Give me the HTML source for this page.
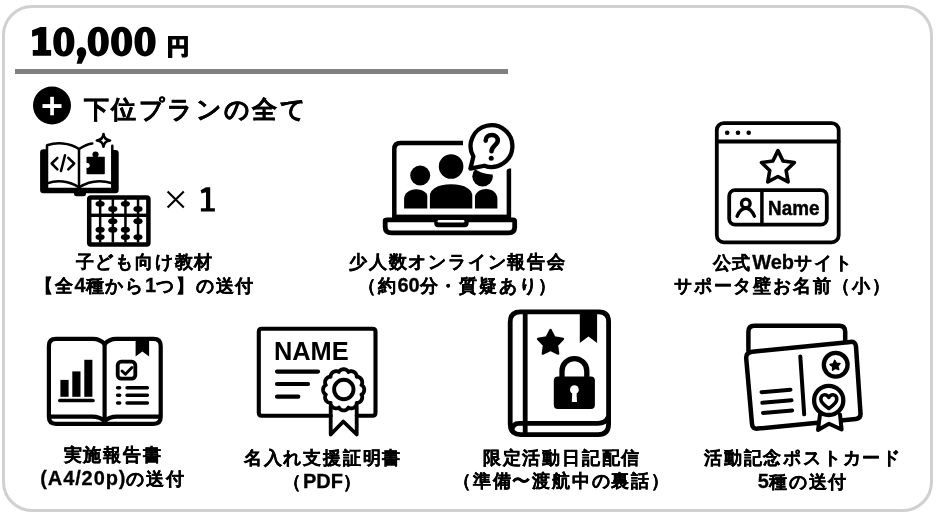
<!DOCTYPE html>
<html lang="ja"><head><meta charset="utf-8">
<style>
html,body{margin:0;padding:0;background:#fff;}
body{width:940px;height:522px;position:relative;overflow:hidden;font-family:"Liberation Sans",sans-serif;color:#000;}
.frame{position:absolute;left:2px;top:5px;width:931px;height:507px;box-sizing:border-box;border:3px solid #d0d0d0;border-radius:30px;}
.t{position:absolute;font-weight:bold;white-space:nowrap;text-align:center;-webkit-text-stroke:0.3px #000;will-change:transform;}
.lbl{font-size:18px;line-height:23px;width:300px;letter-spacing:1.8px;}
.l{font-size:20px;letter-spacing:0;}
.l2{font-size:20px;letter-spacing:0.9px;}
svg{position:absolute;left:0;top:0;will-change:transform;}
</style></head><body>
<div class="frame"></div>
<div class="t" id="head" style="left:84px;top:93px;font-size:25px;line-height:32px;letter-spacing:2.4px;-webkit-text-stroke:0.4px #000;">下位プランの全て</div>

<div class="t lbl" style="left:-5px;top:251px;">子ども向け教材<br>【全<span class="l">4</span>種から<span class="l">1</span>つ】の送付</div>
<div class="t lbl" style="left:308px;top:251px;">少人数オンライン報告会<br>（約<span class="l">60</span>分・質疑あり）</div>
<div class="t lbl" style="left:633px;top:251px;">公式<span class="l">Web</span>サイト<br>サポータ壁お名前（小）</div>

<div class="t lbl" style="left:-37px;top:444px;">実施報告書<br><span class="l2">(A4/20p)</span>の送付</div>
<div class="t lbl" style="left:173px;top:447px;">名入れ支援証明書<br>（<span class="l">PDF</span>）</div>
<div class="t lbl" style="left:412px;top:447px;">限定活動日記配信<br>（準備〜渡航中の裏話）</div>
<div class="t lbl" style="left:653px;top:447px;">活動記念ポストカード<br><span class="l">5</span>種の送付</div>
<div style="position:absolute;left:15px;top:69px;width:493px;height:5px;background:#808080"></div>

<svg width="940" height="522" viewBox="0 0 940 522">
<g fill="#000" stroke="none">
 <!-- price digits -->
 <path d="M46.3,27.1 V49.9 H51.1 V55.7 H32.8 V49.9 H38 V35 L32.1,36.8 V30.2 L40.5,27.1 Z"/>
 <path fill-rule="evenodd" d="M63.85,27.1 C70.5,27.1 74.4,32.5 74.4,41.8 C74.4,51.2 70.5,56.6 63.85,56.6 C57.2,56.6 53.3,51.2 53.3,41.8 C53.3,32.5 57.2,27.1 63.85,27.1 Z M63.85,32.1 C61.9,32.1 60.9,35 60.9,41.8 C60.9,48.6 61.9,51.4 63.85,51.4 C65.8,51.4 66.8,48.6 66.8,41.8 C66.8,35 65.8,32.1 63.85,32.1 Z"/>
 <path d="M81.5,47.3 C84.5,47.3 86.2,49.6 86.2,52.2 C86.2,54.2 85.6,55.8 84.7,57.6 L81.7,63.7 H76.6 L78.6,56.6 C77.4,55.6 76.8,54.1 76.8,52.3 C76.8,49.6 78.8,47.3 81.5,47.3 Z"/>
 <g id="z"><path fill-rule="evenodd" d="M98.25,26.8 C104.9,26.8 108.8,32.3 108.8,41.6 C108.8,50.9 104.9,56.4 98.25,56.4 C91.6,56.4 87.7,50.9 87.7,41.6 C87.7,32.3 91.6,26.8 98.25,26.8 Z M98.25,31.8 C96.3,31.8 95.3,34.8 95.3,41.6 C95.3,48.4 96.3,51.4 98.25,51.4 C100.2,51.4 101.2,48.4 101.2,41.6 C101.2,34.8 100.2,31.8 98.25,31.8 Z"/></g>
 <use href="#z" x="23.4"/><use href="#z" x="46.8"/>
 <!-- yen -->
 <path fill-rule="evenodd" d="M168,36 H187.9 V55.3 Q187.9,57.4 185.8,57.4 H182 L181,53.7 H184.1 V48.7 H172.3 V57.9 H168 Z M172.3,39.5 H176.1 V45.2 H172.3 Z M179.5,39.5 H184.1 V45.2 H179.5 Z"/>
 <!-- plus circle -->
 <circle cx="52" cy="105.5" r="19"/>
</g>
<rect x="42.5" y="104.1" width="19" height="3.9" fill="#fff"/>
<rect x="50.2" y="96.8" width="3.7" height="18.5" fill="#fff"/>

<!-- ===== Icon 1: book ===== -->
<g fill="#000">
 <path d="M43.5,149.3 H46.8 V187.8 H113 V150.1 H115.5 Q118.7,150.1 118.7,153.3 V190 Q118.7,193.3 115.5,193.3 H86 V194 Q86,196.3 83.5,196.3 H76.5 Q74,196.3 74,194 V193.3 H43.3 Q40.1,193.3 40.1,190 V152.5 Q40.1,149.3 43.5,149.3 Z"/>
</g>
<g fill="none" stroke="#000" stroke-width="2.5" stroke-linecap="round" stroke-linejoin="round">
 <path d="M47,188 V145.3 C56,142.3 69,142.3 79,149 C84,145.8 88,144 92.3,143.5"/>
 <path d="M79,149 V188"/>
 <path d="M112.3,145.8 V188"/>
 <path d="M47.2,183.4 C57,179.8 69,180.8 79,187.4 C89,180.8 101,179.8 112.3,183.2"/>
 <path d="M57.4,157.8 L51.7,163.5 L57.4,169.3"/>
 <path d="M65,155.2 L61,171"/>
 <path d="M68.3,157.8 L74.2,163.5 L68.3,169.3"/>
 <path stroke-width="2.5" d="M103.5,134 Q104.1,139.8 110.1,140.4 Q104.1,141 103.5,146.8 Q102.9,141 96.8,140.4 Q102.9,139.8 103.5,134 Z"/>
</g>
<g fill="#000">
 <rect x="86.5" y="156.8" width="18.3" height="17.5" rx="0.8"/>
 <circle cx="95.5" cy="154.5" r="3.1"/>
</g>
<circle cx="87.4" cy="165.5" r="2.4" fill="#fff"/>

<!-- ===== abacus ===== -->
<rect x="89.2" y="197.5" width="59.2" height="47.1" rx="1.8" fill="none" stroke="#000" stroke-width="4.5"/>
<g fill="#000">
 <rect x="91" y="213.6" width="56" height="3.4"/>
 <rect x="98.9" y="199" width="2.5" height="43.5"/><rect x="111.6" y="199" width="2.5" height="43.5"/>
 <rect x="124.2" y="199" width="2.5" height="43.5"/><rect x="136.8" y="199" width="2.5" height="43.5"/>
 <ellipse cx="100.1" cy="203.8" rx="4.6" ry="2.9"/><ellipse cx="100.1" cy="229.7" rx="4.6" ry="2.9"/><ellipse cx="100.1" cy="237.1" rx="4.6" ry="2.9"/>
 <ellipse cx="112.8" cy="209" rx="4.6" ry="2.9"/><ellipse cx="112.8" cy="221.2" rx="4.6" ry="2.9"/><ellipse cx="112.8" cy="229.7" rx="4.6" ry="2.9"/>
 <ellipse cx="125.4" cy="203.8" rx="4.6" ry="2.9"/><ellipse cx="125.4" cy="229.7" rx="4.6" ry="2.9"/><ellipse cx="125.4" cy="237.1" rx="4.6" ry="2.9"/>
 <ellipse cx="138" cy="209" rx="4.6" ry="2.9"/><ellipse cx="138" cy="221.2" rx="4.6" ry="2.9"/><ellipse cx="138" cy="237.1" rx="4.6" ry="2.9"/>
</g>
<!-- x 1 -->
<g stroke="#000" stroke-width="2.1" stroke-linecap="butt"><path d="M167.6,191.6 L183.8,207.6 M183.8,191.6 L167.6,207.6"/></g>
<path fill="#000" d="M206,187.2 H210.2 V208.2 H214.9 V211.6 H200.9 V208.2 H206 V192.3 L201.5,193.6 L200.6,190.2 Z"/>

<!-- ===== laptop ===== -->
<g fill="none" stroke="#000" stroke-width="4.5" stroke-linejoin="round">
 <path d="M463,143 H400.5 Q394.3,143 394.3,149.2 V219"/>
 <path d="M508.9,168.5 V219"/>
 <path d="M385.2,220.5 Q385.2,219.8 387,219.8 H513 Q514.7,219.8 514.7,221.5 V227 Q514.7,232.9 508.5,232.9 H391.5 Q385.2,232.9 385.2,227 Z" stroke-width="4.8"/>
</g>
<g fill="#000">
 <rect x="394" y="214.6" width="117" height="7"/>
 <path d="M434.2,217 H468.7 V223 Q468.7,227.2 464.5,227.2 H438.4 Q434.2,227.2 434.2,223 Z"/>
</g>
<rect x="437.6" y="219.9" width="26.8" height="2.7" rx="1.3" fill="#fff"/>
<g fill="#000">
 <circle cx="420.2" cy="175.5" r="10"/>
 <path d="M404.1,208.4 V199 C404.1,193 409.5,189.2 416.2,189.2 C422.9,189.2 428.3,193 428.3,199 V208.4 Z"/>
 <circle cx="482.6" cy="176.3" r="10.3"/>
 <path d="M474.5,208.4 V199 C474.5,193 479.6,189 486,189 C492.4,189 497.4,193 497.4,199 V208.4 Z"/>
</g>
<g fill="#000" stroke="#fff" stroke-width="2.6">
 <path d="M428.6,209.7 V196 C428.6,189 436,183 451.1,183 C466.2,183 473.6,189 473.6,196 V209.7 Z"/>
 <circle cx="451.1" cy="166.5" r="13.6"/>
</g>
<!-- bubble -->
<circle cx="491.5" cy="146.1" r="28.3" fill="#fff"/>
<g fill="none" stroke="#000" stroke-width="4.5" stroke-linejoin="round" stroke-linecap="round">
 <path d="M473.40,156.55 A20.9,20.9 0 1 1 484.35,165.74 L470.4,168.6 Z" fill="#fff" stroke-width="4.3"/>
 <path d="M485.7,140.6 C485.7,137 488.4,135 491.8,135 C495.3,135 497.8,137.3 497.8,140.6 C497.8,145 491.5,146 491.5,151.3" stroke-width="4.6" stroke-linecap="round"/>
</g>
<circle cx="491.2" cy="158.3" r="2.5" fill="#000"/>

<!-- ===== website ===== -->
<g fill="none" stroke="#000" stroke-width="3.8" stroke-linejoin="round" stroke-linecap="round">
 <rect x="716.8" y="123.1" width="121.9" height="119.2" rx="7"/>
 <path d="M717,141.5 H838.5"/>
 <path d="M777.95,150.60 L783.00,160.94 L794.40,162.55 L786.13,170.56 L788.12,181.90 L777.95,176.50 L767.78,181.90 L769.77,170.56 L761.50,162.55 L772.90,160.94 Z" stroke-width="3.6"/>
 <rect x="729.2" y="190.2" width="97.6" height="34.5" rx="6"/>
 <path d="M761.9,190.5 V224.5" stroke-width="3.5"/>
 <circle cx="745.8" cy="203.4" r="4.3" stroke-width="3.4"/>
 <path d="M737.1,216.2 C739.5,210.8 742.3,208.3 745.8,208.3 C749.3,208.3 752.1,210.8 754.4,216.2" stroke-width="3.4"/>
</g>
<g fill="#000">
 <circle cx="727.2" cy="132.7" r="2.3"/><circle cx="738" cy="132.7" r="2.3"/><circle cx="748.7" cy="132.7" r="2.3"/>
</g>
<text x="768.1" y="215.2" font-family="Liberation Sans" font-weight="bold" font-size="21" textLength="51.3" lengthAdjust="spacingAndGlyphs" fill="#000" stroke="#000" stroke-width="0.5">Name</text>

<!-- ===== report book ===== -->
<g fill="none" stroke="#000" stroke-width="4.2" stroke-linejoin="round" stroke-linecap="round">
 <path d="M104.6,344 C101,340 97.5,338.8 93,338.8 H56 Q48.9,338.8 48.9,345.9 V416.7 Q48.9,423.8 56,423.8 H153.6 Q160.7,423.8 160.7,416.7 V345.9 Q160.7,338.8 153.6,338.8 H116.2 C111.7,338.8 108.2,340 104.6,344 Z"/>
 <path d="M104.6,344 V422"/>
 <path d="M50,416.7 H92 C98,416.7 101.5,417.8 104.6,421.5 C107.7,417.8 111.2,416.7 117.2,416.7 H159.5"/>
 <path d="M59.9,400.5 H92.9" stroke-width="3.7"/>
 <rect x="117.7" y="361.7" width="17.6" height="16.9" rx="3.5" stroke-width="3.8"/>
 <path d="M122,371 L125.4,374.2 L131.9,367.6" stroke-width="2.9"/>
 <path d="M117.6,387.8 H119.7 M127,387.8 H147.4 M117.6,395.3 H119.7 M127,395.3 H147.4 M117.6,403 H119.7 M127,403 H147.4" stroke-width="3.4"/>
</g>
<g fill="#000">
 <rect x="60.4" y="379.9" width="8.2" height="16.9"/>
 <rect x="72.3" y="371.4" width="8.2" height="25.4"/>
 <rect x="84.3" y="359.8" width="8.1" height="37"/>
 <path d="M135.6,338 H149.1 V356.6 L142.35,351.6 L135.6,356.6 Z"/>
</g>

<!-- ===== certificate ===== -->
<g fill="none" stroke="#000" stroke-width="4.1" stroke-linejoin="round" stroke-linecap="round">
 <path d="M330.7,415.7 H261.8 Q258.8,415.7 258.8,412.7 V331.8 Q258.8,328.8 261.8,328.8 H372.5 Q375.5,328.8 375.5,331.8 V412.7 Q375.5,415.7 372.5,415.7 H356.7"/>
 <path d="M277,371.6 H318 M277,384 H308 M277,396.7 H298.3" stroke-width="4.2"/>
 <path d="M364.25,389.80 L364.22,390.34 L364.15,390.87 L364.02,391.40 L363.84,391.92 L363.60,392.43 L363.32,392.92 L362.99,393.38 L362.59,393.83 L362.13,394.24 L361.42,394.56 L361.87,395.20 L362.07,395.78 L362.19,396.36 L362.24,396.94 L362.24,397.50 L362.19,398.06 L362.09,398.60 L361.94,399.12 L361.74,399.62 L361.49,400.10 L361.20,400.55 L360.86,400.98 L360.49,401.37 L360.07,401.73 L359.62,402.05 L359.13,402.33 L358.60,402.57 L358.04,402.76 L357.43,402.88 L356.66,402.81 L356.73,403.58 L356.61,404.19 L356.42,404.75 L356.18,405.28 L355.90,405.77 L355.58,406.22 L355.22,406.64 L354.83,407.01 L354.40,407.35 L353.95,407.64 L353.47,407.89 L352.97,408.09 L352.45,408.24 L351.91,408.34 L351.35,408.39 L350.79,408.39 L350.21,408.34 L349.63,408.22 L349.05,408.02 L348.41,407.57 L348.09,408.28 L347.68,408.74 L347.23,409.14 L346.77,409.47 L346.28,409.75 L345.77,409.99 L345.25,410.17 L344.72,410.30 L344.19,410.37 L343.65,410.40 L343.11,410.37 L342.58,410.30 L342.05,410.17 L341.53,409.99 L341.02,409.75 L340.53,409.47 L340.07,409.14 L339.62,408.74 L339.21,408.28 L338.89,407.57 L338.25,408.02 L337.67,408.22 L337.09,408.34 L336.51,408.39 L335.95,408.39 L335.39,408.34 L334.85,408.24 L334.33,408.09 L333.83,407.89 L333.35,407.64 L332.90,407.35 L332.47,407.01 L332.08,406.64 L331.72,406.22 L331.40,405.77 L331.12,405.28 L330.88,404.75 L330.69,404.19 L330.57,403.58 L330.64,402.81 L329.87,402.88 L329.26,402.76 L328.70,402.57 L328.17,402.33 L327.68,402.05 L327.23,401.73 L326.81,401.37 L326.44,400.98 L326.10,400.55 L325.81,400.10 L325.56,399.62 L325.36,399.12 L325.21,398.60 L325.11,398.06 L325.06,397.50 L325.06,396.94 L325.11,396.36 L325.23,395.78 L325.43,395.20 L325.88,394.56 L325.17,394.24 L324.71,393.83 L324.31,393.38 L323.98,392.92 L323.70,392.43 L323.46,391.92 L323.28,391.40 L323.15,390.87 L323.08,390.34 L323.05,389.80 L323.08,389.26 L323.15,388.73 L323.28,388.20 L323.46,387.68 L323.70,387.17 L323.98,386.68 L324.31,386.22 L324.71,385.77 L325.17,385.36 L325.88,385.04 L325.43,384.40 L325.23,383.82 L325.11,383.24 L325.06,382.66 L325.06,382.10 L325.11,381.54 L325.21,381.00 L325.36,380.48 L325.56,379.98 L325.81,379.50 L326.10,379.05 L326.44,378.62 L326.81,378.23 L327.23,377.87 L327.68,377.55 L328.17,377.27 L328.70,377.03 L329.26,376.84 L329.87,376.72 L330.64,376.79 L330.57,376.02 L330.69,375.41 L330.88,374.85 L331.12,374.32 L331.40,373.83 L331.72,373.38 L332.08,372.96 L332.47,372.59 L332.90,372.25 L333.35,371.96 L333.83,371.71 L334.33,371.51 L334.85,371.36 L335.39,371.26 L335.95,371.21 L336.51,371.21 L337.09,371.26 L337.67,371.38 L338.25,371.58 L338.89,372.03 L339.21,371.32 L339.62,370.86 L340.07,370.46 L340.53,370.13 L341.02,369.85 L341.53,369.61 L342.05,369.43 L342.58,369.30 L343.11,369.23 L343.65,369.20 L344.19,369.23 L344.72,369.30 L345.25,369.43 L345.77,369.61 L346.28,369.85 L346.77,370.13 L347.23,370.46 L347.68,370.86 L348.09,371.32 L348.41,372.03 L349.05,371.58 L349.63,371.38 L350.21,371.26 L350.79,371.21 L351.35,371.21 L351.91,371.26 L352.45,371.36 L352.97,371.51 L353.47,371.71 L353.95,371.96 L354.40,372.25 L354.83,372.59 L355.22,372.96 L355.58,373.38 L355.90,373.83 L356.18,374.32 L356.42,374.85 L356.61,375.41 L356.73,376.02 L356.66,376.79 L357.43,376.72 L358.04,376.84 L358.60,377.03 L359.13,377.27 L359.62,377.55 L360.07,377.87 L360.49,378.23 L360.86,378.62 L361.20,379.05 L361.49,379.50 L361.74,379.98 L361.94,380.48 L362.09,381.00 L362.19,381.54 L362.24,382.10 L362.24,382.66 L362.19,383.24 L362.07,383.82 L361.87,384.40 L361.42,385.04 L362.13,385.36 L362.59,385.77 L362.99,386.22 L363.32,386.68 L363.60,387.17 L363.84,387.68 L364.02,388.20 L364.15,388.73 L364.22,389.26 Z" stroke-width="3.8"/>
 <circle cx="343.8" cy="389.5" r="9.7" stroke-width="3.9"/>
 <path d="M330.7,406 V434.5 L343.3,421.5 L356.7,434.5 V406" stroke-width="3.8"/>
</g>
<text x="273.9" y="360.1" font-family="Liberation Sans" font-weight="bold" font-size="25.5" textLength="74.8" lengthAdjust="spacingAndGlyphs" fill="#000">NAME</text>

<!-- ===== lock book ===== -->
<g fill="none" stroke="#000" stroke-width="4.8" stroke-linejoin="round" stroke-linecap="round">
 <path d="M598.7,311.9 Q608.6,311.9 608.6,321.9 V424 Q608.6,434.6 598,434.6 H520.6 Q510.2,434.6 510.2,424 V322 Q510.2,311.9 520.3,311.9 Z"/>
 <path d="M525.2,312.5 V433"/>
 <path d="M512,430.5 Q512,423.3 519.5,423.3 H598 Q605.5,423.3 608,417.5"/>
 <path d="M562,378 V371 A12.4,12.4 0 0 1 586.8,371 V378" stroke-width="5.3"/>
 <path d="M550.50,329.80 L554.56,337.42 L563.05,338.92 L557.06,345.13 L558.26,353.68 L550.50,349.90 L542.74,353.68 L543.94,345.13 L537.95,338.92 L546.44,337.42 Z" fill="#000" stroke-width="2.2"/>
</g>
<g fill="#000">
 <path d="M579.8,311 H597.1 V343.1 L588.45,336.6 L579.8,343.1 Z"/>
 <rect x="553.8" y="376.6" width="41.1" height="32.4" rx="4"/>
</g>
<g fill="#fff">
 <circle cx="574.4" cy="389.7" r="4.4"/>
 <path d="M572.3,392 H576.5 L577,402 H571.8 Z"/>
</g>

<!-- ===== postcard ===== -->
<g fill="none" stroke="#000" stroke-width="4.5" stroke-linejoin="round" stroke-linecap="round">
 <path d="M748.4,350.5 V331.8 Q748.4,325.8 754.4,325.8 H839.2 Q845.2,325.8 845.2,331.8 V341"/>
 <path d="M752.2,351.7 L850.4,341.9 Q855.5,341.4 856,346.5 L860.5,413.3 Q860.9,418.4 855.8,418.9 L757.5,428.6 Q752.4,429.1 752,424 L746.2,358.3 Q745.8,352.3 752.2,351.7 Z"/>
 <path d="M800.3,356.5 L804.2,414.3" stroke-width="4"/>
 <path d="M761.5,392.2 L790.5,389.7 M762.3,402.8 L791.5,400.3 M763,412.9 L792.2,410.4" stroke-width="4"/>
 <circle cx="835.7" cy="364.8" r="11.9" stroke-width="4.3"/>
 <path d="M820,414.5 L818,430 L829,423.8 L841.6,429.5 L840,414.5" stroke-width="4" fill="#fff"/>
 <circle cx="828.7" cy="400.4" r="14.6" stroke-width="4.3" fill="#fff"/>
 <path d="M828.8,408.5 C823,404.5 820.8,401.8 820.8,399 C820.8,396.3 822.8,394.8 824.8,394.8 C826.6,394.8 828,395.9 828.8,397.4 C829.6,395.9 831,394.8 832.8,394.8 C834.8,394.8 836.8,396.3 836.8,399 C836.8,401.8 834.6,404.5 828.8,408.5 Z" stroke-width="3.6"/>
 <path d="M834.66,360.43 L836.50,363.35 L839.95,363.48 L837.74,366.14 L838.68,369.46 L835.47,368.19 L832.60,370.10 L832.82,366.66 L830.11,364.52 L833.46,363.67 Z" fill="#000" stroke-width="1.6"/>
</g>
</svg>

</body></html>
